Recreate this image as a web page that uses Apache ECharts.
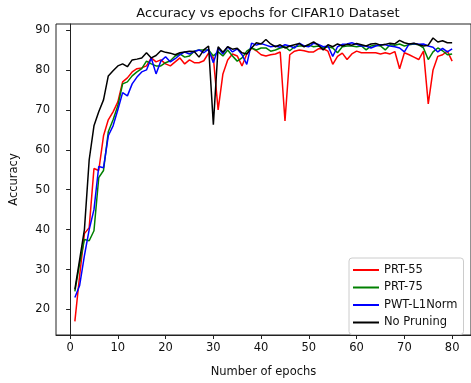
<!DOCTYPE html>
<html lang="en">
<head>
    <meta charset="UTF-8">
    <title>Accuracy vs epochs for CIFAR10 Dataset</title>
    <script src="https://cdn.jsdelivr.net/npm/echarts@6/dist/echarts.min.js"></script>
    <style>
        html, body { margin: 0; padding: 0; background: #fff; }
    </style>
</head>
<body>
    <div id="main" style="width: 471px; height: 383px;"></div>
    <script>
        // epochs 1..80
        const epochs = Array.from({ length: 80 }, (_, i) => i + 1);

        const prt55 = [
            17.0, 28.5, 39.0, 40.5, 55.3, 54.8, 63.5, 67.5, 69.5, 72.0,
            77.0, 78.0, 79.5, 80.3, 80.5, 81.0, 83.0, 82.0, 82.5, 81.5,
            81.0, 82.0, 83.0, 81.5, 82.5, 81.8, 81.8, 82.3, 84.2, 83.0,
            70.0, 79.0, 82.5, 84.0, 83.5, 81.0, 84.0, 85.5, 84.8, 83.8,
            83.5, 83.8, 84.0, 84.5, 67.2, 83.8, 84.7, 85.0, 84.8, 84.5,
            84.5, 85.3, 85.3, 84.7, 81.4, 83.4, 84.2, 82.6, 84.0, 84.7,
            84.3, 84.3, 84.3, 84.3, 84.0, 84.3, 84.0, 84.6, 80.3, 84.3,
            83.8, 83.2, 82.6, 84.7, 71.5, 80.0, 83.4, 83.8, 84.7, 82.2
        ];
        const prt75 = [
            24.5, 31.5, 37.5, 37.2, 39.7, 53.0, 54.8, 64.5, 67.5, 71.0,
            76.5, 77.0, 78.5, 79.5, 80.3, 82.2, 81.5, 81.0, 81.0, 81.8,
            82.3, 83.5, 84.0, 83.2, 83.5, 84.7, 85.0, 85.0, 85.0, 83.5,
            84.5, 83.5, 85.0, 83.5, 82.2, 83.0, 84.7, 85.5, 85.0, 85.5,
            85.5, 84.7, 85.0, 85.5, 85.8, 84.8, 85.8, 86.0, 86.0, 86.2,
            85.8, 86.0, 85.5, 85.8, 85.5, 84.3, 85.8, 86.0, 86.0, 85.8,
            86.0, 85.0, 86.0, 86.2, 86.0, 85.0, 86.3, 86.2, 86.5, 86.0,
            86.3, 86.5, 86.3, 85.5, 82.6, 84.5, 85.5, 84.8, 83.8, 84.0
        ];
        const pwtL1 = [
            23.0, 26.0, 33.5, 40.0, 45.0, 55.8, 55.5, 63.5, 66.0, 70.0,
            74.3, 73.5, 76.5, 78.2, 79.5, 80.0, 83.0, 79.0, 82.2, 83.3,
            82.0, 82.8, 83.8, 84.5, 84.0, 84.6, 85.0, 84.3, 85.2, 81.8,
            85.5, 84.0, 85.8, 84.5, 85.3, 83.8, 81.4, 86.7, 86.2, 86.6,
            86.2, 85.8, 86.0, 85.7, 86.3, 86.0, 85.5, 86.7, 86.0, 85.8,
            86.7, 86.4, 85.8, 86.0, 83.4, 85.8, 86.4, 86.5, 86.8, 86.4,
            86.0, 86.0, 85.5, 86.0, 86.3, 86.3, 86.0, 85.8, 85.5, 84.5,
            86.5, 86.6, 86.4, 86.5, 86.0, 85.7, 84.5, 85.4, 84.5, 85.3
        ];
        const noPruning = [
            25.0, 32.5, 40.0, 57.5, 66.0, 69.5, 72.5, 78.5, 79.8, 81.0,
            81.5, 80.8, 82.5, 82.7, 83.0, 84.3, 83.0, 83.6, 84.8, 84.4,
            84.2, 83.8, 84.3, 84.5, 84.7, 84.6, 83.2, 85.0, 86.0, 66.3,
            85.8, 84.4, 85.8, 85.2, 85.4, 84.3, 84.0, 85.5, 86.8, 86.5,
            87.6, 86.5, 85.8, 86.3, 85.5, 86.0, 86.3, 86.6, 85.8, 86.4,
            87.0, 86.2, 85.0, 86.3, 85.8, 86.5, 86.0, 86.4, 86.2, 86.6,
            86.3, 86.0, 86.5, 86.6, 86.2, 86.4, 86.7, 86.5, 87.4, 86.8,
            86.5, 86.7, 86.3, 86.0, 86.2, 88.0, 87.0, 87.3, 86.8, 86.8
        ];

        const xTicks = [0, 10, 20, 30, 40, 50, 60, 70, 80];
        const yTicks = [20, 30, 40, 50, 60, 70, 80, 90];

        const font = 'DejaVu Sans';

        function mkSeries(name, values, color) {
            return {
                name: name,
                type: 'line',
                symbol: 'none',
                data: epochs.map((e, i) => [e, values[i]]),
                lineStyle: { color: color, width: 1.5 },
                itemStyle: { color: color }
            };
        }

        var myChart = echarts.init(document.getElementById('main'));
        option = {
            animation: false,
            title: {
                text: 'Accuracy vs epochs for CIFAR10 Dataset',
                left: 263,
                textAlign: 'center',
                top: 2,
                textStyle: { fontFamily: font, fontSize: 13, fontWeight: 'normal', color: '#111' }
            },
            grid: {
                left: 51, top: 24, right: -4, bottom: 43,
                show: true, borderColor: '#222', borderWidth: 1
            },
            legend: {
                orient: 'vertical',
                left: 349, top: 258,
                padding: [6, 6, 6, 4],
                icon: 'rect',
                itemWidth: 26, itemHeight: 2, itemGap: 5.5,
                backgroundColor: '#fff',
                borderColor: '#ccc', borderWidth: 1, borderRadius: 3,
                textStyle: { fontFamily: font, fontSize: 11.5, color: '#111' }
            },
            xAxis: {
                type: 'value',
                min: -2.95, max: 83.95,
                name: 'Number of epochs',
                nameLocation: 'middle',
                nameGap: 31,
                nameTextStyle: { fontFamily: font, fontSize: 11.5, color: '#111' },
                axisLine: { lineStyle: { color: '#222' } },
                axisTick: { length: 4, customValues: xTicks, lineStyle: { color: '#222' } },
                axisLabel: { customValues: xTicks, fontFamily: font, fontSize: 11.5, color: '#111', margin: 7 },
                splitLine: { show: false }
            },
            yAxis: {
                type: 'value',
                min: 13.6, max: 91.5,
                name: 'Accuracy',
                nameLocation: 'middle',
                nameGap: 36,
                nameTextStyle: { fontFamily: font, fontSize: 11.5, color: '#111' },
                axisLine: { show: true, lineStyle: { color: '#222' } },
                axisTick: { show: true, length: 4, customValues: yTicks, lineStyle: { color: '#222' } },
                axisLabel: { customValues: yTicks, fontFamily: font, fontSize: 11.5, color: '#111', margin: 6 },
                splitLine: { show: false }
            },
            series: [
                mkSeries('PRT-55', prt55, '#ff0000'),
                mkSeries('PRT-75', prt75, '#008000'),
                mkSeries('PWT-L1Norm', pwtL1, '#0000ff'),
                mkSeries('No Pruning', noPruning, '#000000')
            ]
        };
        myChart.setOption(option);
    </script>
</body>
</html>
